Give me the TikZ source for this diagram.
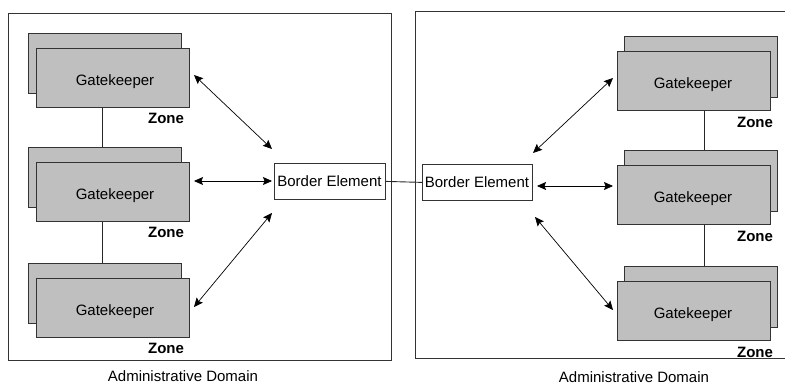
\documentclass[tikz,border=0pt]{standalone}
\usepackage{fontspec}
\setmainfont{Liberation Sans}
\usetikzlibrary{arrows.meta,positioning,calc}
\begin{document}
\begin{tikzpicture}[x=1pt,y=-1pt,
  line width=0.8pt,
  gkbox/.style={draw=black!80,fill=black!25,rectangle,minimum width=153pt,minimum height=59pt,anchor=north west,inner sep=0pt},
  bebox/.style={draw=black!80,fill=white,rectangle,minimum width=111pt,minimum height=36pt,anchor=north west,inner sep=0pt},
  lbl/.style={font=\fontsize{15}{18}\selectfont},
  zonelbl/.style={font=\fontsize{15}{18}\selectfont\bfseries},
  arr/.style={black,line width=0.7pt,{Stealth[length=9pt,width=8pt,inset=1.5pt]}-{Stealth[length=9pt,width=8pt,inset=1.5pt]}},
  link/.style={draw=black!85,line width=0.9pt}]
\useasboundingbox (0,0) rectangle (785,385);
% domains
\begin{scope}
\clip (0,0) rectangle (785,385);
\draw[draw=black!80] (8,13) rectangle (391,360);
\draw[draw=black!80] (415,11) rectangle (790,358);
\end{scope}
% left gatekeepers
\foreach \n/\by in {1/33,2/147,3/263}{
  \node[gkbox,minimum height=60pt] (lb\n) at (28,\by) {};
  \node[gkbox] (lf\n) at (36,\by+15) {};
  \node[lbl] (lt\n) at (115,\by+49) {Gatekeeper};
  \node[zonelbl] (lz\n) at (166,\by+85) {Zone};
}
% right gatekeepers
\foreach \n/\by in {1/36,2/150,3/266}{
  \node[gkbox,minimum height=61pt] (rb\n) at (624,\by) {};
  \node[gkbox] (rf\n) at (617,\by+15) {};
  \node[lbl] (rt\n) at (693,\by+49) {Gatekeeper};
  \node[zonelbl] (rz\n) at (755,\by+86) {Zone};
}
% vertical zone links
\draw[link] (lf1.south -| 102,0) -- (lb2.north -| 102,0);
\draw[link] (lf2.south -| 102,0) -- (lb3.north -| 102,0);
\draw[link] (rf1.south -| 704,0) -- (rb2.north -| 704,0);
\draw[link] (rf2.south -| 704,0) -- (rb3.north -| 704,0);
% border elements
\node[bebox] (lbe) at (274,163) {};
\node[lbl] (lbet) at (329.5,181) {Border Element};
\node[bebox,minimum width=110pt] (rbe) at (422,164) {};
\node[lbl] (rbet) at (477,182) {Border Element};
\draw[link] (lbe.east) -- (rbe.west);
% arrow end points
\coordinate (la1) at (194,75);  \coordinate (lb1e) at (272,149);
\coordinate (la2) at (194,181); \coordinate (lb2e) at (272,181);
\coordinate (la3) at (194,307); \coordinate (lb3e) at (272,213);
\coordinate (ra1) at (533,153); \coordinate (rb1e) at (613,78);
\coordinate (ra2) at (537,186); \coordinate (rb2e) at (613,186);
\coordinate (ra3) at (535,217); \coordinate (rb3e) at (613,310);
\draw[arr] (la1) -- (lb1e);
\draw[arr] (la2) -- (lb2e);
\draw[arr] (la3) -- (lb3e);
\draw[arr] (ra1) -- (rb1e);
\draw[arr] (ra2) -- (rb2e);
\draw[arr] (ra3) -- (rb3e);
% domain labels
\node[lbl] (ldl) at (183,376) {Administrative Domain};
\node[lbl] (rdl) at (634,377) {Administrative Domain};
\end{tikzpicture}
\end{document}
